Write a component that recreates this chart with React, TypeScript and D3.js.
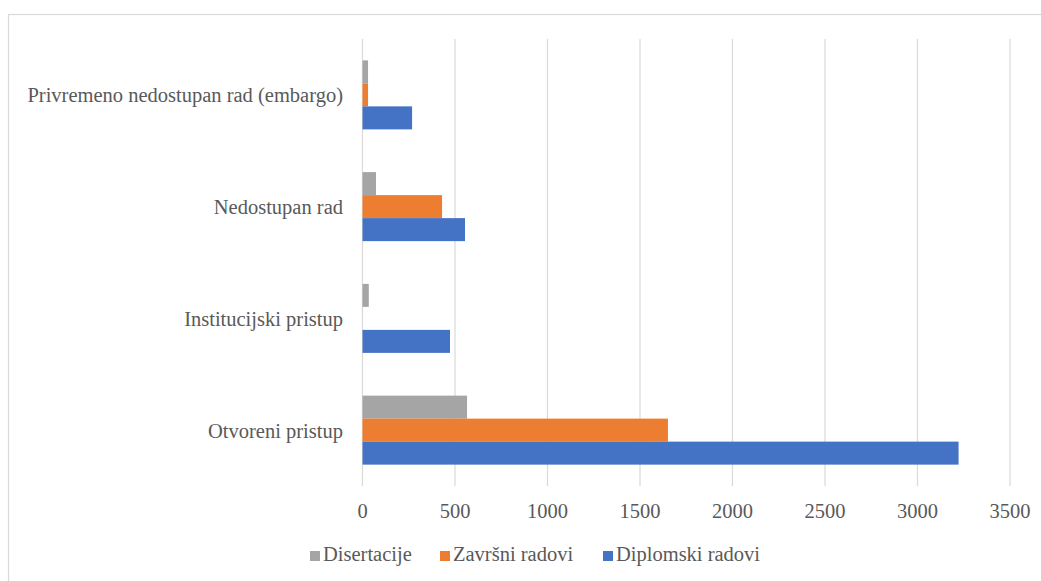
import React from "react";
import * as d3 from "d3";

const categories = [
  "Privremeno nedostupan rad (embargo)",
  "Nedostupan rad",
  "Institucijski pristup",
  "Otvoreni pristup",
];
const seriesNames = ["Disertacije", "Završni radovi", "Diplomski radovi"];
const disertacije = [30, 73, 34, 565];
const zavrsni = [30, 430, 0, 1651];
const diplomski = [268, 554, 473, 3222];
const seriesValues = [disertacije, zavrsni, diplomski];
const seriesColors = ["#a5a5a5", "#ed7d31", "#4472c4"];
const xTicks = [0, 500, 1000, 1500, 2000, 2500, 3000, 3500];

const W = 1041;
const H = 581;
const left = 362.5;
const right = 1010;
const top = 39;
const bottom = 486;
const textColor = "#595959";
const fs = 20.5;
const textStyle: React.CSSProperties = {
  fontFamily: '"Liberation Serif", "Times New Roman", Times, serif',
  fontSize: fs,
  fill: textColor,
};

export default function App() {
  const x = d3.scaleLinear().domain([0, 3500]).range([left, right]);
  const pi = 0.3825;
  const y = d3
    .scaleBand<string>()
    .domain(categories)
    .range([top, bottom])
    .paddingInner(pi)
    .paddingOuter(pi / 2);
  const inner = d3
    .scaleBand<string>()
    .domain(seriesNames)
    .range([0, y.bandwidth()]);

  const legendX = [310, 440, 603];

  return (
    <svg
      width={W}
      height={H}
      style={{ position: "absolute", left: 0, top: 0, background: "#fff" }}
    >
      <rect x={0} y={0} width={W} height={H} fill="#fff" />
      <rect
        x={8.5}
        y={14.5}
        width={W + 20}
        height={H + 20}
        fill="none"
        stroke="#d9d9d9"
        strokeWidth={1.2}
      />
      {xTicks.map((t) => (
        <g key={t}>
          <line
            x1={x(t)}
            x2={x(t)}
            y1={top}
            y2={bottom}
            stroke="#d9d9d9"
            strokeWidth={1.2}
          />
          <text x={x(t)} y={518} textAnchor="middle" style={textStyle}>
            {t}
          </text>
        </g>
      ))}
      {categories.map((c, ci) => (
        <g key={c}>
          {seriesNames.map((s, si) => {
            const v = seriesValues[si][ci];
            if (!v) return null;
            return (
              <rect
                key={s}
                x={x(0)}
                y={(y(c) as number) + (inner(s) as number)}
                width={x(v) - x(0)}
                height={inner.bandwidth()}
                fill={seriesColors[si]}
              />
            );
          })}
          <text
            x={343}
            y={(y(c) as number) + y.bandwidth() / 2}
            dy="0.36em"
            textAnchor="end"
            style={textStyle}
          >
            {c}
          </text>
        </g>
      ))}
      {seriesNames.map((s, si) => (
        <g key={s}>
          <rect
            x={legendX[si]}
            y={551}
            width={10}
            height={10}
            fill={seriesColors[si]}
          />
          <text x={legendX[si] + 13} y={561} style={textStyle}>
            {s}
          </text>
        </g>
      ))}
    </svg>
  );
}
